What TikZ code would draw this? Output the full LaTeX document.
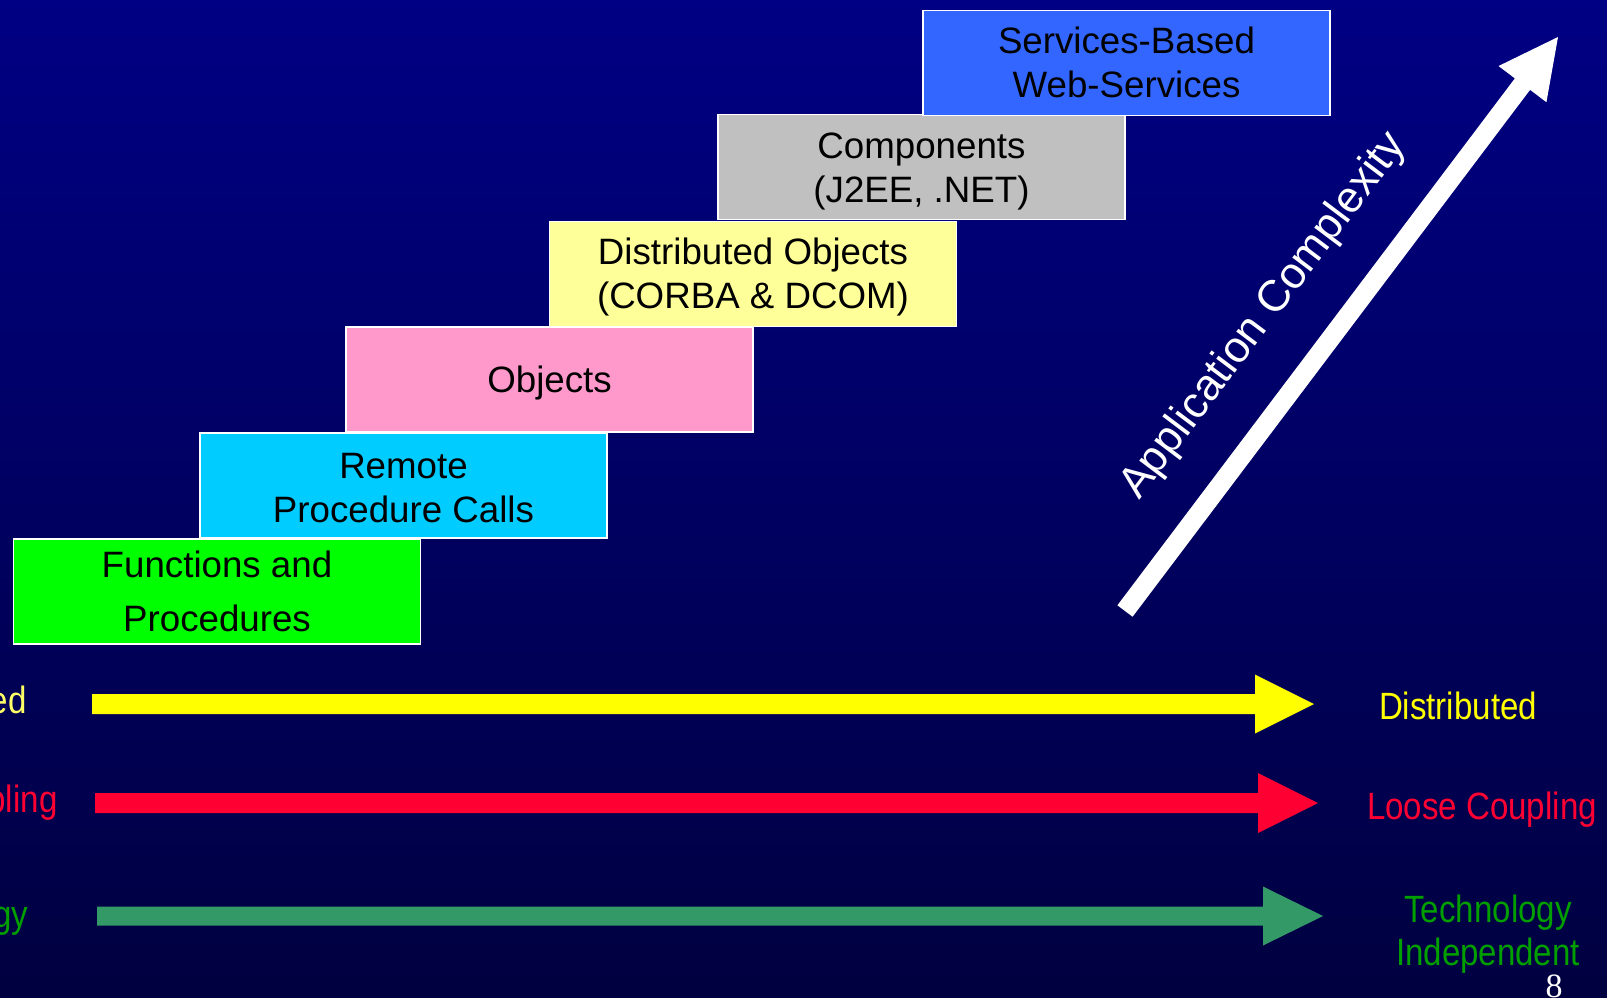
\documentclass[tikz,border=0pt]{standalone}
\usepackage{fontspec}
\setmainfont{Liberation Sans}
\newfontfamily\narrowfont[FakeStretch=0.87]{Liberation Sans}
\newfontfamily\pagefont{Liberation Serif}
\usetikzlibrary{calc}
\definecolor{bgtop}{HTML}{000084}
\definecolor{bgmid}{HTML}{000098}
\definecolor{bgbot}{HTML}{000040}
\definecolor{cServ}{HTML}{3366FF}
\definecolor{cComp}{HTML}{C0C0C0}
\definecolor{cDist}{HTML}{FFFF99}
\definecolor{cObj}{HTML}{FF99CC}
\definecolor{cRpc}{HTML}{00CCFF}
\definecolor{cFun}{HTML}{00FF00}
\definecolor{aYel}{HTML}{FFFF00}
\definecolor{tYelL}{HTML}{FFFF66}
\definecolor{aRed}{HTML}{FF0033}
\definecolor{aGrn}{HTML}{339966}
\definecolor{tGrn}{HTML}{009F00}
% block arrow: colour, from, to, half shaft width, head length, half head width
\newcommand\blockarrow[6]{%
  \coordinate (hb) at ($(#3)!#5!(#2)$);
  \fill[#1] ($(#2)!#4!90:(#3)$) -- ($(hb)!#4!90:(#3)$) -- ($(hb)!#6!90:(#3)$)
    -- (#3) -- ($(hb)!#6!-90:(#3)$) -- ($(hb)!#4!-90:(#3)$) -- ($(#2)!#4!-90:(#3)$) -- cycle;
}
\begin{document}
\begin{tikzpicture}[x=1pt,y=-1pt,
  stair/.style={draw=white, line width=1.5pt, minimum width=407pt, minimum height=105pt,
    inner sep=0pt, align=center, font=\fontsize{36.7}{44}\selectfont, text=black, text depth=5pt},
  side/.style={font=\narrowfont\fontsize{38}{43}\selectfont, anchor=base},
]
\useasboundingbox (0,0) rectangle (1607,997);
\shade[top color=bgtop, middle color=bgmid, bottom color=bgbot] (0,0) rectangle (1607,997);

% staircase
\node[stair, fill=cFun, text height=84pt] (fp) at (217,591.5) {Functions and\\[10pt]Procedures};
\node[stair, fill=cRpc, text height=78pt] (rpc) at (403.5,485.5) {Remote\\Procedure Calls};
\node[stair, fill=cObj, text height=30pt] (obj) at (549.5,379.5) {Objects};
\node[stair, fill=cDist, text height=73pt] (dobj) at (753,274) {Distributed Objects\\(CORBA \& DCOM)};
\node[stair, fill=cComp, text height=75pt] (comp) at (921.5,167) {Components\\(J2EE, .NET)};
\node[stair, fill=cServ, text height=73pt] (serv) at (1126.5,63) {Services-Based\\Web-Services};

% diagonal arrow
\coordinate (dtail) at (1125,611);
\coordinate (dtip) at (1558,37);
\blockarrow{white}{dtail}{dtip}{9.5pt}{59pt}{30pt}
\node[rotate=53, font=\fontsize{44}{50}\selectfont, text=white] (ac) at (1264,316) {Application Complexity};

% horizontal arrows
\coordinate (ys) at (92,704);  \coordinate (ye) at (1314,704);
\coordinate (rs) at (95,803);  \coordinate (re) at (1318,803);
\coordinate (gs) at (97,916);  \coordinate (ge) at (1323,916);
\blockarrow{aYel}{ys}{ye}{10pt}{59pt}{29.5pt}
\blockarrow{aRed}{rs}{re}{10pt}{60pt}{30pt}
\blockarrow{aGrn}{gs}{ge}{9.5pt}{60pt}{29.5pt}

% left fragments
\node[side, anchor=base east, text=tYelL] (l1) at (30,713) {ed};
\node[side, anchor=base east, text=aRed] (l2) at (61,812) {pling};
\node[side, anchor=base east, text=tGrn] (l3) at (32,927) {gy};

% right labels
\node[side, text=aYel] (r1) at (1458,719) {Distributed};
\node[side, text=aRed] (r2) at (1482,819) {Loose Coupling};
\node[side, text=tGrn, align=center] (r3) at (1488,965) {Technology\\Independent};

\node[font=\pagefont\fontsize{34}{40}\selectfont, text=white, anchor=base] (pg) at (1554,997) {8};
\end{tikzpicture}
\end{document}
